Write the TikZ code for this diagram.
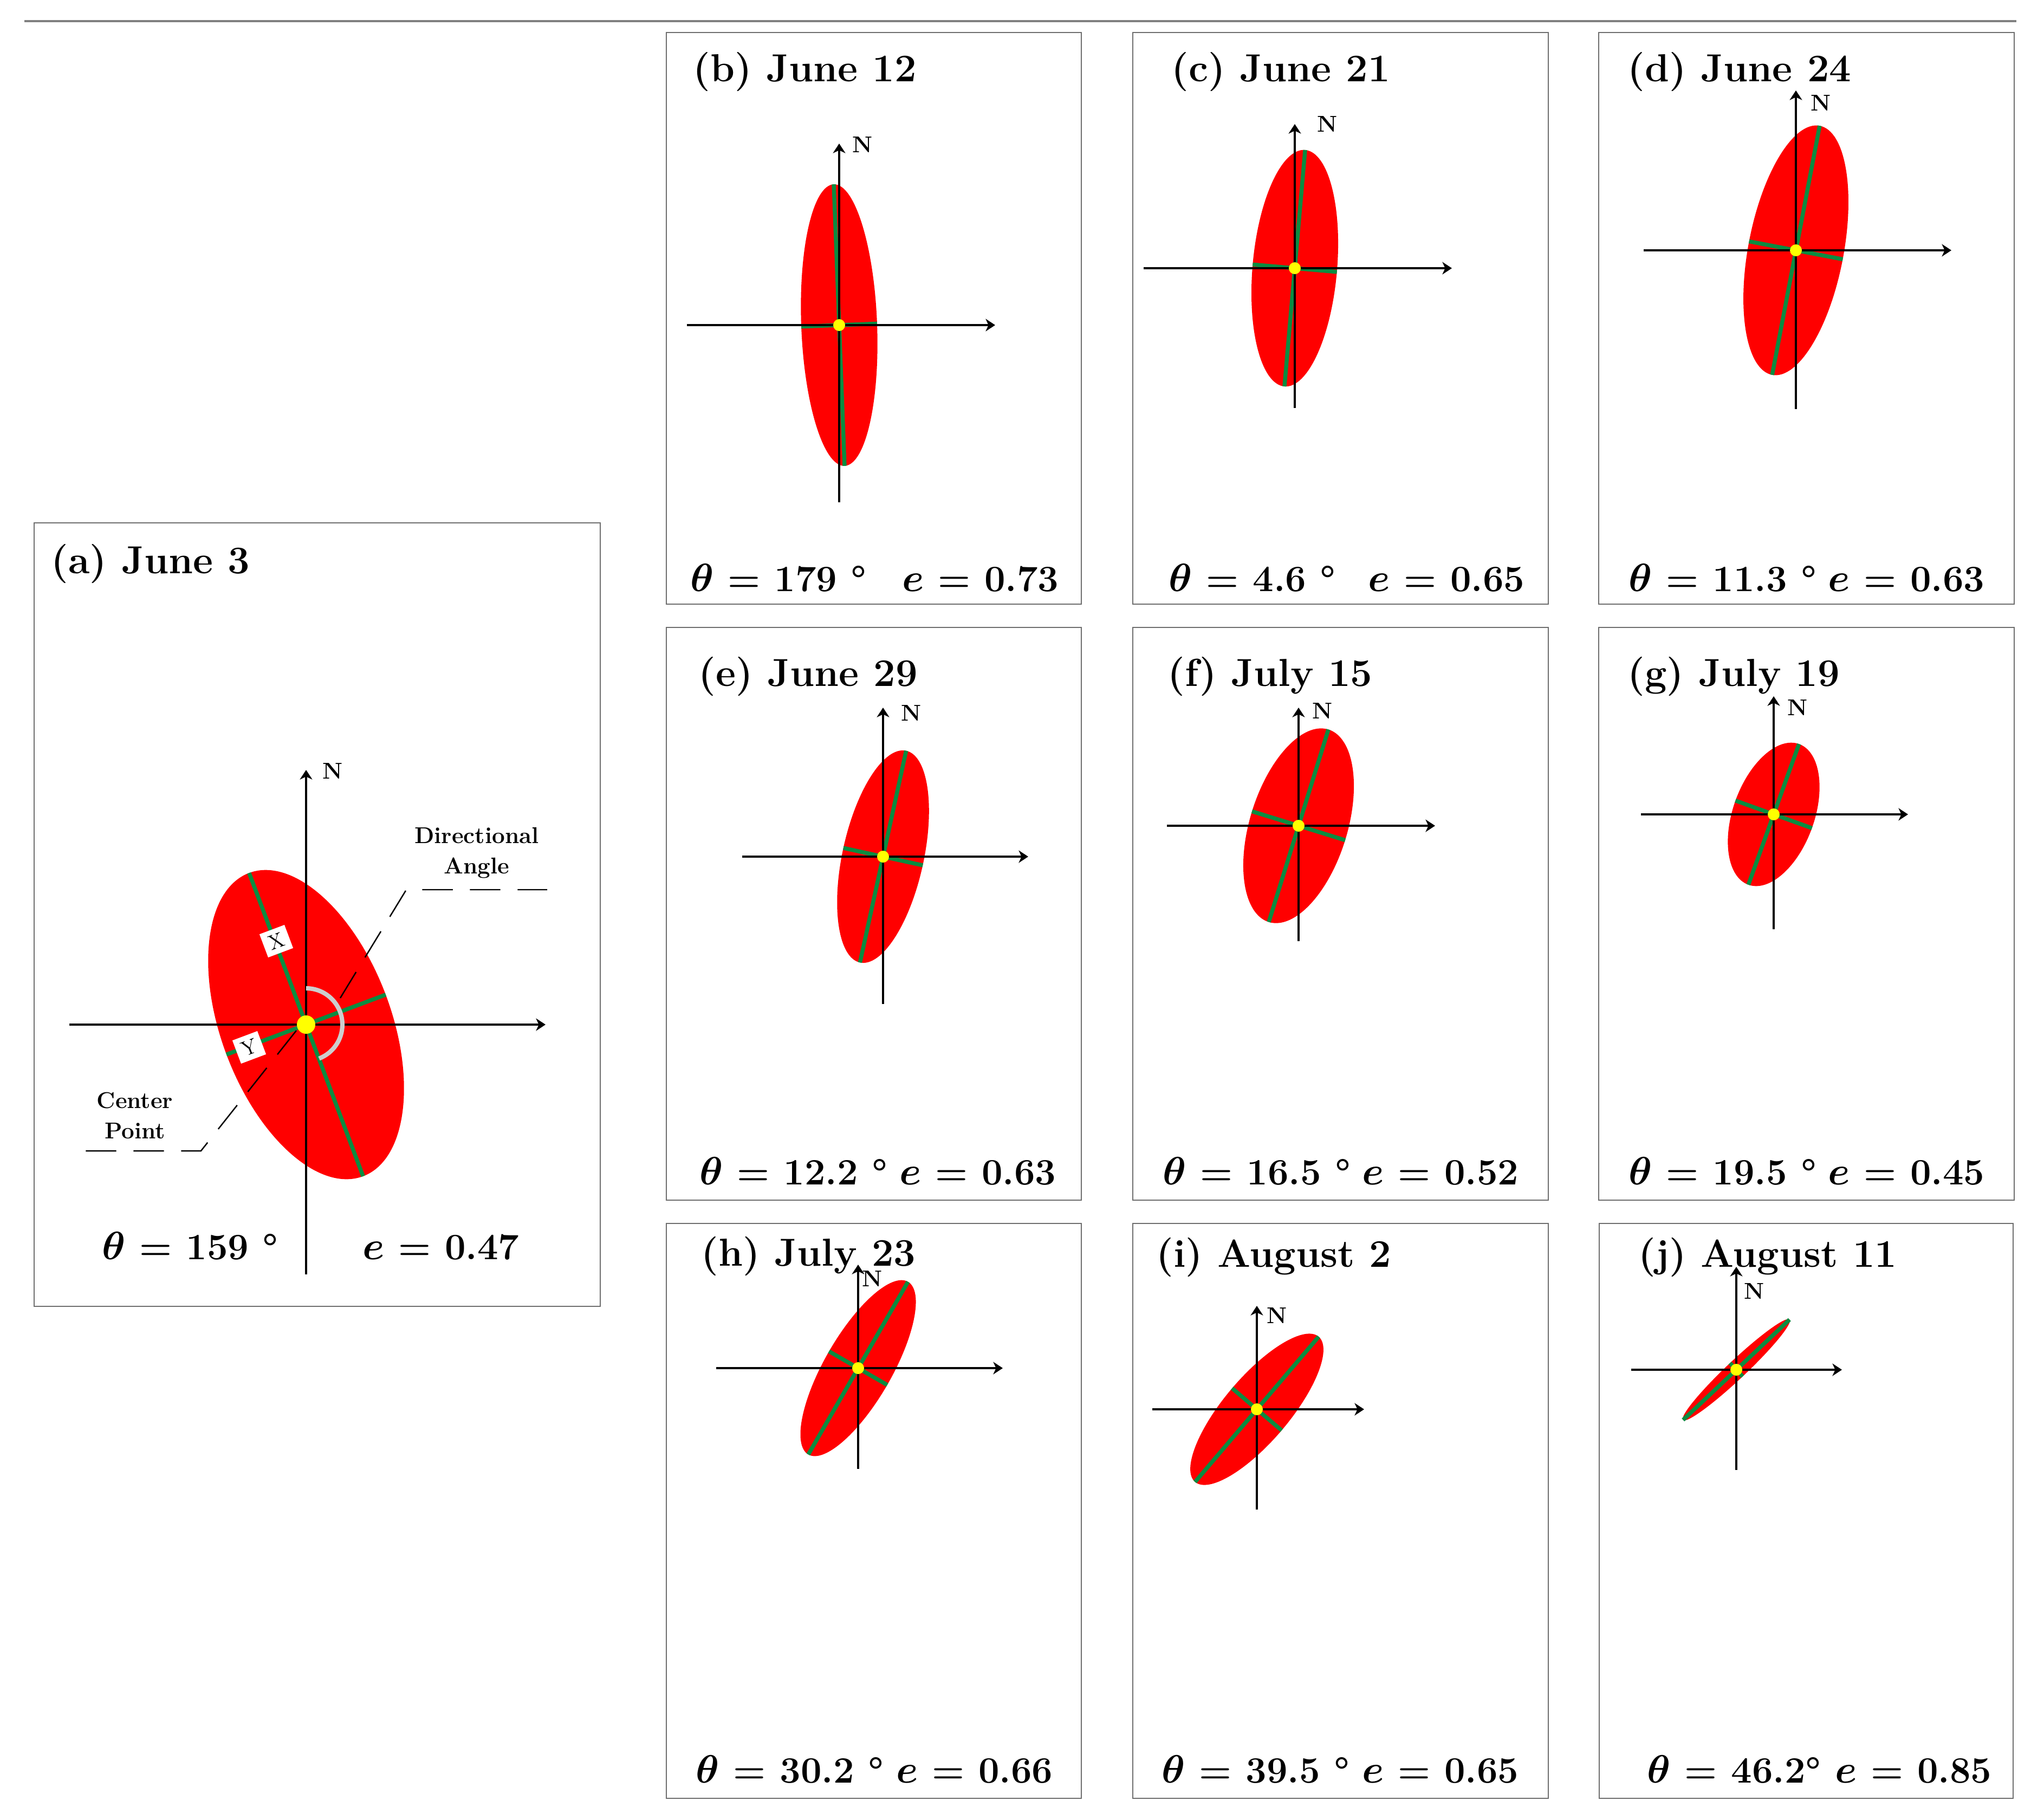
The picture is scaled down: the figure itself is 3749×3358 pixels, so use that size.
\documentclass[tikz,border=0pt]{standalone}
\usepackage{fontspec}
\usetikzlibrary{arrows.meta}
\definecolor{ellred}{RGB}{255,0,0}
\definecolor{ellgreen}{RGB}{10,140,65}
\definecolor{dotyellow}{RGB}{255,255,0}
\definecolor{boxgray}{RGB}{110,110,110}
\definecolor{arcgray}{RGB}{205,205,205}
\definecolor{rulegray}{RGB}{128,128,128}
\tikzset{
  panelbox/.style={draw=boxgray, line width=0.7pt},
  axisline/.style={line width=1.15pt, -{Stealth[length=5pt,width=6.5pt,inset=1.5pt]}},
  greenax/.style={draw=ellgreen, line width=2.1pt},
  titletext/.style={font=\fontsize{20.5}{24}\selectfont\bfseries, anchor=base west, inner sep=0pt},
  valtext/.style={font=\fontsize{19.5}{23}\selectfont\bfseries\boldmath, anchor=base west, inner sep=0pt},
  nlabel/.style={font=\fontsize{12}{14}\selectfont\bfseries, inner sep=0pt},
  smalllabel/.style={font=\fontsize{12}{14}\selectfont\bfseries, anchor=base, inner sep=0pt},
  leader/.style={line width=0.7pt, dash pattern=on 16pt off 9pt},
  axislabelbox/.style={fill=white, inner sep=0pt, minimum width=14pt, minimum height=13pt,
    font=\fontsize{11}{13}\selectfont, rotate=20.6},
}
\newcommand\ellipsemark[5]{%
  \begin{scope}[shift={(#1,#2)},rotate=#5]
    \fill[ellred] (0,0) ellipse [x radius=#3, y radius=#4];
    \draw[greenax] (-#3,0) -- (#3,0) (0,-#4) -- (0,#4);
  \end{scope}}
\newcommand\compassaxes[8]{%
  \coordinate (#1o) at (#2,#3);
  \coordinate (#1w) at (#4,#3);
  \coordinate (#1e) at (#5,#3);
  \coordinate (#1n) at (#2,#6);
  \coordinate (#1s) at (#2,#7);
  \draw[axisline] (#1w) -- (#1e);
  \draw[axisline] (#1s) -- (#1n);
  \fill[dotyellow] (#1o) circle [radius=#8];}
\begin{document}
\begin{tikzpicture}[x=0.01cm, y=-0.01cm]
\useasboundingbox (0,0) rectangle (3749,3358);
\fill[white] (0,0) rectangle (3749,3358);
% top rule
\coordinate (ruleL) at (45,39);
\coordinate (ruleR) at (3722,39);
\draw[rulegray, line width=1.1pt] (ruleL) -- (ruleR);

% panel boxes
\draw[panelbox] (63,965) rectangle (1108,2411);
\draw[panelbox] (1230,60) rectangle (1996,1115);
\draw[panelbox] (2091,60) rectangle (2858,1115);
\draw[panelbox] (2951,60) rectangle (3718,1115);
\draw[panelbox] (1230,1158) rectangle (1996,2215);
\draw[panelbox] (2091,1158) rectangle (2858,2215);
\draw[panelbox] (2951,1158) rectangle (3718,2215);
\draw[panelbox] (1230,2258) rectangle (1996,3319);
\draw[panelbox] (2091,2258) rectangle (2858,3319);
\draw[panelbox] (2952,2258) rectangle (3716,3319);

% ---- panel (a)
\ellipsemark{565}{1891}{299}{157}{110.6}
\compassaxes{pa}{565}{1891}{128}{1007}{1421}{2352}{17}
\draw[arcgray, line width=2.3pt] (565,1824) arc [start angle=-90, end angle=69, radius=67];
\node[axislabelbox] (xlab) at (510,1737) {X};
\node[axislabelbox] (ylab) at (460,1933) {Y};
\coordinate (daA) at (628,1842);
\coordinate (daB) at (750,1642);
\coordinate (daC) at (1010,1642);
\draw[leader] (daA) -- (daB) -- (daC);
\coordinate (cpA) at (547,1902);
\coordinate (cpB) at (371,2124);
\coordinate (cpC) at (138,2124);
\draw[leader] (cpA) -- (cpB) -- (cpC);
\node[smalllabel] (dir1) at (880,1556) {Directional};
\node[smalllabel] (dir2) at (880,1612) {Angle};
\node[smalllabel] (cen1) at (249,2045) {Center};
\node[smalllabel] (cen2) at (249,2101) {Point};
\node[nlabel] (na) at (614,1423) {N};
\node[titletext] (ta) at (94,1058) {(a) June 3};
\node[valtext] (tha) at (188,2324) {$\theta$ = 159 °};
\node[valtext, anchor=base east] (ea) at (959,2324) {$e$ = 0.47};

% ---- panel (b)
\ellipsemark{1549}{600}{260}{70}{92.2}
\compassaxes{pb}{1549}{600}{1268}{1837}{265}{927}{11}
\node[nlabel] (nb) at (1592,267) {N};
\node[titletext] (tb) at (1279,151) {(b) June 12};
\node[valtext] (thb) at (1274,1091) {$\theta$ = 179 °};
\node[valtext, anchor=base east] (eb) at (1955,1091) {$e$ = 0.73};

% ---- panel (c)
\ellipsemark{2390}{495}{219}{78}{85}
\compassaxes{pc}{2390}{495}{2111}{2680}{229}{753}{11}
\node[nlabel] (nc) at (2450,229) {N};
\node[titletext] (tc) at (2162,151) {(c) June 21};
\node[valtext] (thc) at (2157,1091) {$\theta$ = 4.6 °};
\node[valtext, anchor=base east] (ec) at (2815,1091) {$e$ = 0.65};

% ---- panel (d)
\ellipsemark{3315}{462}{234}{88}{79.2}
\compassaxes{pd}{3315}{462}{3034}{3602}{167}{755}{11}
\node[nlabel] (nd) at (3361,190) {N};
\node[titletext] (td) at (3004,151) {(d) June 24};
\node[valtext] (thd) at (3006,1091) {$\theta$ = 11.3 °};
\node[valtext, anchor=base east] (ed) at (3664,1091) {$e$ = 0.63};

% ---- panel (e)
\ellipsemark{1630}{1581}{200}{75}{77.7}
\compassaxes{pe}{1630}{1581}{1370}{1898}{1306}{1853}{11}
\node[nlabel] (ne) at (1682,1316) {N};
\node[titletext] (te) at (1289,1266) {(e) June 29};
\node[valtext] (the) at (1291,2186) {$\theta$ = 12.2 °};
\node[valtext, anchor=base east] (ee) at (1950,2186) {$e$ = 0.63};

% ---- panel (f)
\ellipsemark{2397}{1524}{186}{90}{72.8}
\compassaxes{pf}{2397}{1524}{2154}{2649}{1306}{1737}{11}
\node[nlabel] (nf) at (2441,1312) {N};
\node[titletext] (tf) at (2155,1266) {(f) July 15};
\node[valtext] (thf) at (2146,2186) {$\theta$ = 16.5 °};
\node[valtext, anchor=base east] (ef) at (2804,2186) {$e$ = 0.52};

% ---- panel (g)
\ellipsemark{3274}{1503}{138}{75}{70.2}
\compassaxes{pg}{3274}{1503}{3029}{3522}{1285}{1715}{11}
\node[nlabel] (ng) at (3318,1306) {N};
\node[titletext] (tg) at (3004,1266) {(g) July 19};
\node[valtext] (thg) at (3006,2186) {$\theta$ = 19.5 °};
\node[valtext, anchor=base east] (eg) at (3664,2186) {$e$ = 0.45};

% ---- panel (h)
\ellipsemark{1584}{2525}{184}{62}{60}
\compassaxes{ph}{1584}{2525}{1322}{1851}{2334}{2711}{11}
\node[nlabel] (nh) at (1610,2360) {N};
\node[titletext] (th) at (1294,2336) {(h) July 23};
\node[valtext] (thh) at (1284,3290) {$\theta$ = 30.2 °};
\node[valtext, anchor=base east] (eh) at (1944,3290) {$e$ = 0.66};

% ---- panel (i)
\ellipsemark{2320}{2601}{176}{60}{49.6}
\compassaxes{pi}{2320}{2601}{2127}{2518}{2410}{2786}{11}
\node[nlabel] (ni) at (2357,2428) {N};
\node[titletext] (ti) at (2134,2338) {(i) August 2};
\node[valtext] (thi) at (2144,3290) {$\theta$ = 39.5 °};
\node[valtext, anchor=base east] (ei) at (2804,3290) {$e$ = 0.65};

% ---- panel (j)
\ellipsemark{3205}{2528}{135}{17}{43.3}
\compassaxes{pj}{3205}{2528}{3011}{3400}{2338}{2713}{11}
\node[nlabel] (nj) at (3238,2383) {N};
\node[titletext] (tj) at (3024,2338) {(j) August 11};
\node[valtext] (thj) at (3040,3290) {$\theta$ = 46.2°};
\node[valtext, anchor=base east] (ej) at (3677,3290) {$e$ = 0.85};
\end{tikzpicture}
\end{document}
